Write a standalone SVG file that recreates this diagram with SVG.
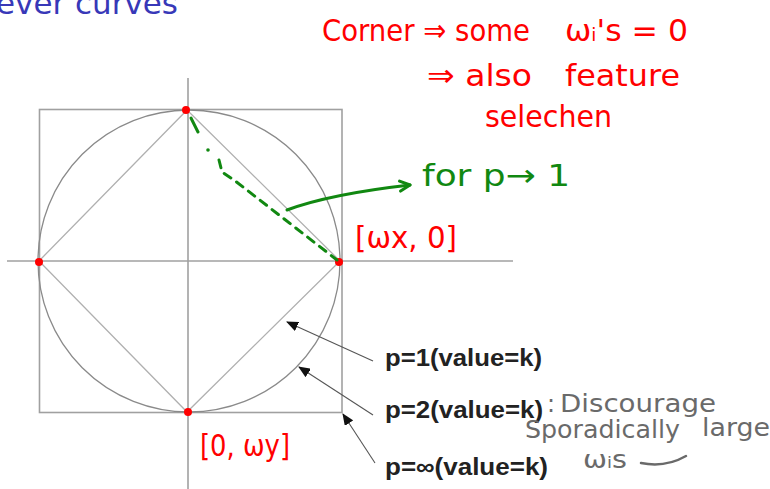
<svg xmlns="http://www.w3.org/2000/svg" width="770" height="489" viewBox="0 0 770 489">
<defs>
<style>
.ax{stroke:#a0a0a0;stroke-width:1.6;fill:none}
.circ{stroke:#8a8a8a;stroke-width:1.3;fill:none}
.dia{stroke:#b0b0b0;stroke-width:1.3;fill:none}
.ptr{stroke:#555;stroke-width:1.1;fill:none}
.dot{fill:#ff0000}
.lbl{font-family:"Liberation Sans",Arial,sans-serif;font-weight:bold;font-size:24px;fill:#222}
.hr{font-family:"DejaVu Sans",sans-serif;font-size:31px;fill:#ff0000}
.hg{font-family:"DejaVu Sans",sans-serif;font-size:31px;fill:#118811}
.hy{font-family:"DejaVu Sans",sans-serif;font-size:24px;fill:#6a6a6a}
</style>
<marker id="ah" markerWidth="12" markerHeight="10" refX="11" refY="5" orient="auto" markerUnits="userSpaceOnUse">
<path d="M0,0 L12,5 L0,10 Z" fill="#111"/>
</marker>
<marker id="gh" markerWidth="14" markerHeight="14" refX="12" refY="7" orient="auto" markerUnits="userSpaceOnUse">
<path d="M2,2 L12,7 L2,12" fill="none" stroke="#118811" stroke-width="3" stroke-linecap="round" stroke-linejoin="round"/>
</marker>
</defs>
<rect width="770" height="489" fill="#ffffff"/>

<g id="title">
<text x="-4" y="14" font-family="DejaVu Sans,Verdana,sans-serif" font-size="31" fill="#3838b8" textLength="182" lengthAdjust="spacingAndGlyphs">ever curves</text>
</g>

<g id="plot">
<line class="ax" x1="188" y1="78" x2="188" y2="489"/>
<line class="ax" x1="7" y1="261" x2="513" y2="261"/>
<rect class="ax" x="39.5" y="109.5" width="302.5" height="303"/>
<circle class="circ" cx="189" cy="261" r="151"/>
<polygon class="dia" points="187,110 340,261 187,412 39,261"/>
</g>

<g id="points">
<circle class="dot" cx="186" cy="110" r="4"/>
<circle class="dot" cx="339" cy="262" r="4"/>
<circle class="dot" cx="39" cy="262" r="4"/>
<circle class="dot" cx="188" cy="412" r="4"/>
</g>

<g id="connectors">
<line class="ptr" x1="373" y1="361" x2="287" y2="322" marker-end="url(#ah)"/>
<line class="ptr" x1="373" y1="415" x2="299" y2="367" marker-end="url(#ah)"/>
<line class="ptr" x1="375" y1="463" x2="343" y2="414" marker-end="url(#ah)"/>
<path d="M191,118 L198,132" stroke="#118811" stroke-width="3" stroke-linecap="round" fill="none"/>
<circle cx="208" cy="150" r="1.8" fill="#118811"/>
<path d="M219,160 L222,172 L234,180 L337,260" stroke="#118811" stroke-width="3" stroke-linecap="round" stroke-dasharray="8 7" fill="none"/>
<path d="M287,210 Q330,194 410,185" stroke="#118811" stroke-width="3" stroke-linecap="round" fill="none" marker-end="url(#gh)"/>
</g>

<g id="labels">
<text class="lbl" x="385" y="366" textLength="157" lengthAdjust="spacingAndGlyphs">p=1(value=k)</text>
<text class="lbl" x="385" y="418" textLength="158" lengthAdjust="spacingAndGlyphs">p=2(value=k)</text>
<text class="lbl" x="385" y="475" textLength="163" lengthAdjust="spacingAndGlyphs">p=∞(value=k)</text>
</g>

<g id="notes-red">
<text class="hr" x="322" y="41" textLength="208" lengthAdjust="spacingAndGlyphs">Corner ⇒ some</text>
<text class="hr" x="565" y="41" textLength="123" lengthAdjust="spacingAndGlyphs">ω<tspan font-size="18">i</tspan>'s = 0</text>
<text class="hr" x="427" y="86" textLength="105" lengthAdjust="spacingAndGlyphs">⇒ also</text>
<text class="hr" x="565" y="86" textLength="115" lengthAdjust="spacingAndGlyphs">feature</text>
<text class="hr" x="485" y="127" textLength="127" lengthAdjust="spacingAndGlyphs">selechen</text>
<text class="hr" x="355" y="248" font-size="32" textLength="102" lengthAdjust="spacingAndGlyphs">[ωx, 0]</text>
<text class="hr" x="200" y="456" font-size="32" textLength="90" lengthAdjust="spacingAndGlyphs">[0, ωy]</text>
</g>

<g id="notes-green">
<text class="hg" x="422" y="186" textLength="148" lengthAdjust="spacingAndGlyphs">for p→ 1</text>
</g>

<g id="notes-gray">
<text class="hy" x="547" y="412">:</text>
<text class="hy" x="560" y="412" textLength="156" lengthAdjust="spacingAndGlyphs">Discourage</text>
<text class="hy" x="525" y="438" textLength="155" lengthAdjust="spacingAndGlyphs">Sporadically</text>
<text class="hy" x="702" y="436" textLength="68" lengthAdjust="spacingAndGlyphs">large</text>
<text class="hy" x="583" y="468" textLength="44" lengthAdjust="spacingAndGlyphs">ω<tspan font-size="15">i</tspan>s</text>
<path d="M641,463 Q665,468 686,456" stroke="#6a6a6a" stroke-width="2.5" fill="none" stroke-linecap="round"/>
</g>
</svg>
